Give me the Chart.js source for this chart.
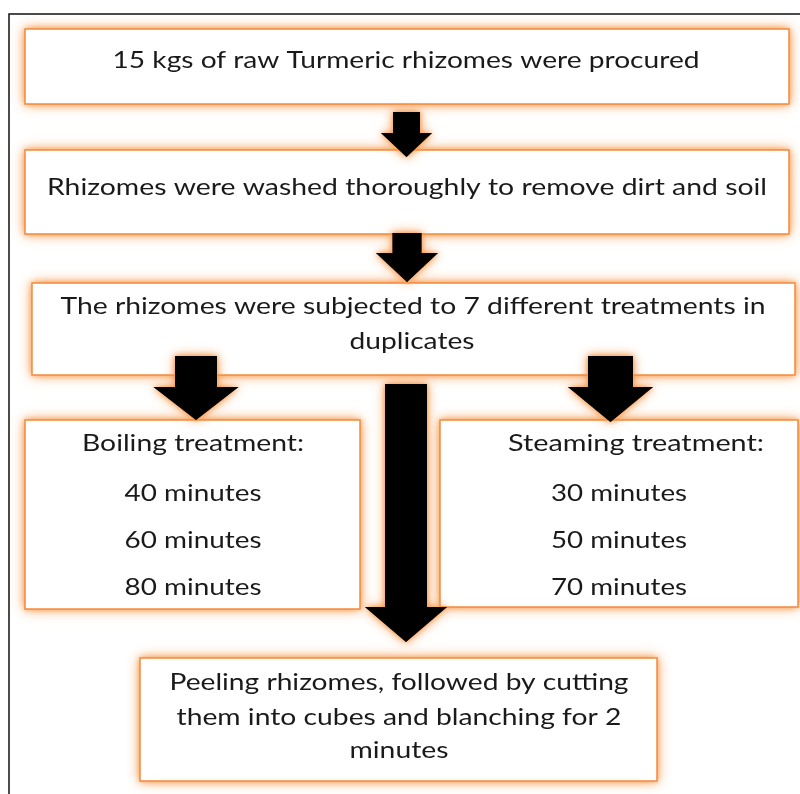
<!DOCTYPE html>
<html>
<head>
<meta charset="utf-8">
<script src="https://cdn.jsdelivr.net/npm/chart.js@4"></script>
<style>
  body { margin: 0; background: #fff; }
  canvas { display: block; }
</style>
</head>
<body>
<canvas id="flow" width="800" height="794"></canvas>
<script>
// flow chart content
const stepLabels = [
    '15 kgs of raw Turmeric rhizomes were procured',
    'Rhizomes were washed thoroughly to remove dirt and soil',
];
const treatmentLines = ['The rhizomes were subjected to 7 different treatments in', 'duplicates'];
const boilingTitle = 'Boiling treatment:';
const boilingMinutes = [40, 60, 80];
const steamingTitle = 'Steaming treatment:';
const steamingMinutes = [30, 50, 70];
const finalLines = [
    'Peeling rhizomes, followed by cutting',
    'them into cubes and blanching for 2',
    'minutes',
];

// layout in page units (0..800 x 0..794)
const boxes = [
    { x0: 25, y0: 29, x1: 789, y1: 104 },
    { x0: 25, y0: 150, x1: 789, y1: 234 },
    { x0: 32, y0: 283, x1: 795, y1: 375 },
    { x0: 25, y0: 420, x1: 360, y1: 609 },
    { x0: 440, y0: 420, x1: 798, y1: 607 },
    { x0: 140, y0: 658, x1: 657, y1: 781 },
];

const arrows = [
    { cx: 406.5, sw: 13.5, top: 112, head: 133, hw: 25.5, tip: 157 },
    { cx: 407, sw: 14.5, top: 233, head: 253, hw: 31, tip: 282 },
    { cx: 196, sw: 21, top: 356, head: 387, hw: 42.5, tip: 420 },
    { cx: 610.5, sw: 22.5, top: 356, head: 387, hw: 42.5, tip: 422 },
    { cx: 406, sw: 21, top: 384, head: 607, hw: 41, tip: 642 },
];

// text lines: [text, centre x, centre y, width]
const textLines = [
    [stepLabels[0], 406, 60, 587],
    [stepLabels[1], 407, 187, 720],
    [treatmentLines[0], 413, 306, 705],
    [treatmentLines[1], 412, 341, 125],
    [boilingTitle, 193, 443, 222],
    ...boilingMinutes.map((m, i) => [m + ' minutes', 193, 493 + i * 47, 137]),
    [steamingTitle, 636, 443, 256],
    ...steamingMinutes.map((m, i) => [m + ' minutes', 619, 493 + i * 47, 136]),
    [finalLines[0], 399, 682, 459],
    [finalLines[1], 399, 717, 445],
    [finalLines[2], 399, 750, 99],
];

const GLOW = 'rgba(247, 150, 70, 0.95)';
const BORDER = '#f48a3c';

const flowPlugin = {
    id: 'flow',
    afterDraw(chart) {
        const ctx = chart.ctx;
        const xs = chart.scales.x;
        const ys = chart.scales.y;
        const px = (v) => xs.getPixelForValue(v);
        const py = (v) => ys.getPixelForValue(v);

        ctx.save();

        // outer frame
        ctx.strokeStyle = '#111';
        ctx.lineWidth = 1.5;
        ctx.beginPath();
        ctx.moveTo(px(9), py(794));
        ctx.lineTo(px(9), py(14));
        ctx.lineTo(px(800), py(14));
        ctx.stroke();

        // boxes with glow (two passes for a stronger halo)
        boxes.forEach((b) => {
            const x = px(b.x0), y = py(b.y0);
            const w = px(b.x1) - x, h = py(b.y1) - y;
            ctx.save();
            ctx.shadowColor = GLOW;
            ctx.fillStyle = '#fff';
            ctx.shadowBlur = 12;
            ctx.fillRect(x, y, w, h);
            ctx.shadowBlur = 6;
            ctx.fillRect(x, y, w, h);
            ctx.restore();
            ctx.strokeStyle = BORDER;
            ctx.lineWidth = 1.5;
            ctx.strokeRect(x, y, w, h);
        });

        // block arrows
        arrows.forEach((a) => {
            ctx.save();
            ctx.shadowColor = GLOW;
            ctx.fillStyle = '#000';
            ctx.beginPath();
            ctx.moveTo(px(a.cx - a.sw), py(a.top));
            ctx.lineTo(px(a.cx + a.sw), py(a.top));
            ctx.lineTo(px(a.cx + a.sw), py(a.head));
            ctx.lineTo(px(a.cx + a.hw), py(a.head));
            ctx.lineTo(px(a.cx), py(a.tip));
            ctx.lineTo(px(a.cx - a.hw), py(a.head));
            ctx.lineTo(px(a.cx - a.sw), py(a.head));
            ctx.closePath();
            ctx.shadowBlur = 12;
            ctx.fill();
            ctx.shadowBlur = 5;
            ctx.fill();
            ctx.restore();
        });

        // labels, stretched to the measured widths
        ctx.fillStyle = '#1a1a1a';
        ctx.font = '24px Lato';
        ctx.textAlign = 'center';
        ctx.textBaseline = 'middle';
        textLines.forEach(([text, cx, cy, w]) => {
            const measured = ctx.measureText(text).width;
            const sx = (px(w) - px(0)) / measured;
            ctx.save();
            ctx.translate(px(cx), py(cy));
            ctx.scale(sx, 1);
            ctx.fillText(text, 0, 0);
            ctx.restore();
        });

        ctx.restore();
    }
};

new Chart(document.getElementById('flow'), {
    type: 'scatter',
    data: { datasets: [{ data: [] }] },
    options: {
        responsive: false,
        animation: false,
        layout: { padding: 0 },
        plugins: {
            legend: { display: false },
            tooltip: { enabled: false },
        },
        scales: {
            x: { type: 'linear', min: 0, max: 800, display: false },
            y: { type: 'linear', min: 0, max: 794, reverse: true, display: false },
        },
    },
    plugins: [flowPlugin],
});
</script>
</body>
</html>
